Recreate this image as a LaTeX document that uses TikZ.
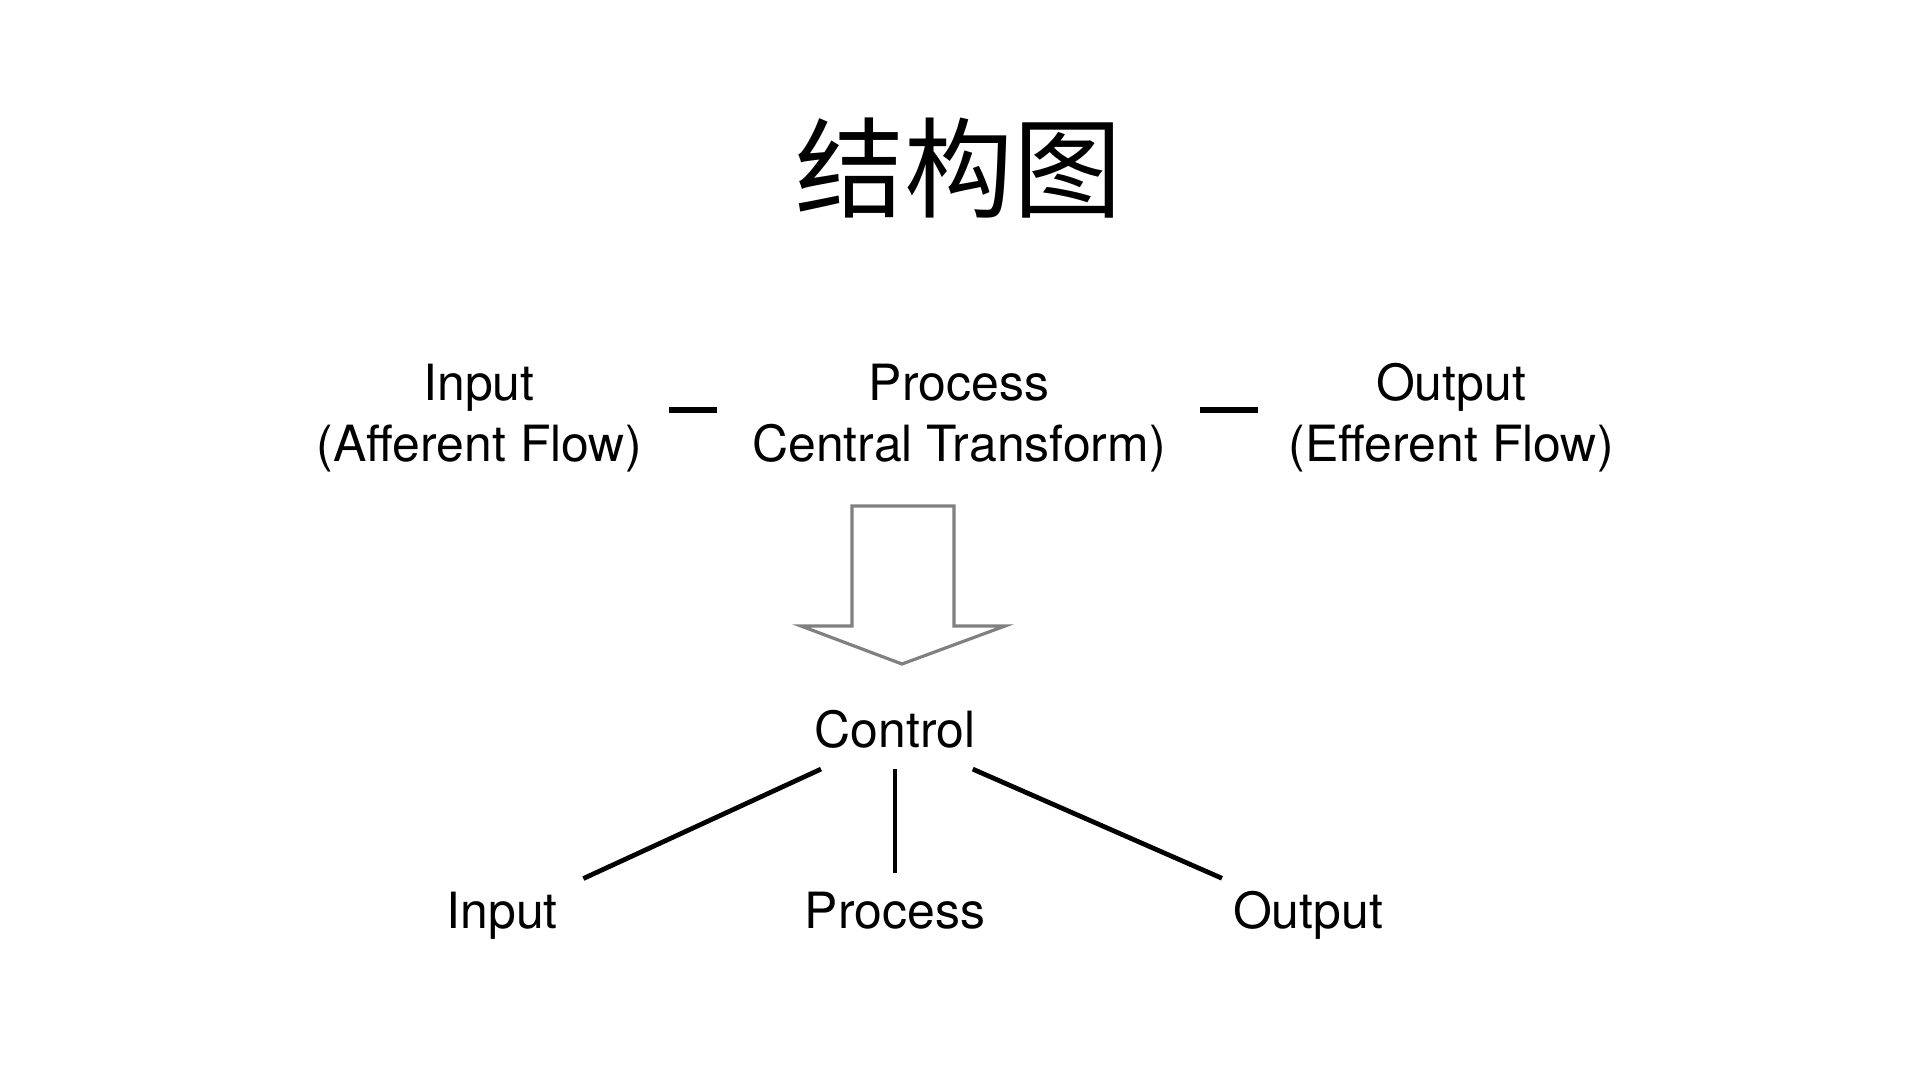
\documentclass[tikz,border=0pt]{standalone}
\usepackage{fontspec}
\setmainfont{TeX Gyre Heros}
\newfontfamily\cjk{Noto Sans CJK SC}
\usetikzlibrary{arrows}
\tikzset{
  labelNode/.style = {align=center, inner sep=0pt, text centered,
    font=\fontsize{14.2}{17.4}\selectfont},
  %title
  titleNode/.style = {inner sep=0pt, font=\cjk\fontsize{31}{36}\selectfont},
  %tree node
  treeNode/.style = {labelNode, text height=0.72em, text depth=0pt,
    inner xsep=4.8pt, inner ysep=5.9pt},
  %short bar between blocks
  joinBar/.style = {line width=1.5pt},
  %hollow arrow
  hollowArrow/.style = {draw=black!50, line width=0.9pt, line join=miter}
}
\begin{document}
\begin{tikzpicture}[x=0.1mm, y=0.1mm, level/.style={sibling distance = 40.3mm,
  level distance = 18.1mm},
  edge from parent/.style={draw, line width=1.35pt, shorten >=0.9mm}]
\useasboundingbox (0,0) rectangle (1920,1080);
\fill [white] (0,0) rectangle (1920,1080);

\node [titleNode] (title) at (959,912) {结构图};

% top row
\node [labelNode] (inTop) at (479,662) {Input\\(Afferent Flow)};
\node [labelNode] (procTop) at (959,662) {Process\\Central Transform)};
\node [labelNode] (outTop) at (1451,662) {Output\\(Efferent Flow)};
\coordinate (barA1) at (669,670);
\coordinate (barA2) at (717,670);
\coordinate (barB1) at (1200,670);
\coordinate (barB2) at (1258,670);
\draw [joinBar] (barA1) -- (barA2);
\draw [joinBar] (barB1) -- (barB2);

% arrow
\draw [hollowArrow] (852,574) -- (852,454) -- (801,454) -- (902,416)
  -- (1005,454) -- (954,454) -- (954,574) -- cycle;

% tree
\node [treeNode] (control) at (895,345) {Control}
    child[xshift=1mm]{ node [treeNode] (leafIn) {Input} }
    child{ node [treeNode] (leafProc) {Process} }
    child[xshift=1mm]{ node [treeNode] (leafOut) {Output} }
;
\end{tikzpicture}
\end{document}
